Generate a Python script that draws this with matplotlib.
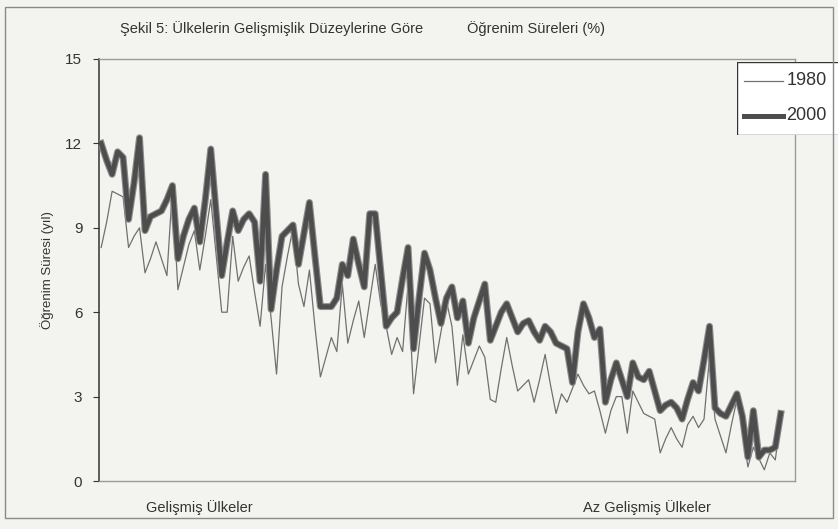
import numpy as np
import matplotlib
matplotlib.use("Agg")
import matplotlib.pyplot as plt
from matplotlib import font_manager
from matplotlib.patches import Rectangle

# font: narrow sans if available
names = {f.name for f in font_manager.fontManager.ttflist}
fam = "Liberation Sans Narrow" if "Liberation Sans Narrow" in names else "Liberation Sans"
plt.rcParams["font.family"] = [fam, "DejaVu Sans"]

# ------------------------------
# data: years of schooling per country, ordered by development level
# ------------------------------
y2000 = [12.0, 11.4, 10.9, 11.7, 11.5, 9.3, 10.6, 12.2, 8.9, 9.4,
         9.5, 9.6, 10.0, 10.5, 7.9, 8.7, 9.3, 9.7, 8.5, 10.0,
         11.8, 9.5, 7.3, 8.5, 9.6, 8.9, 9.3, 9.5, 9.2, 7.1,
         10.9, 6.1, 7.5, 8.7, 8.9, 9.1, 7.7, 8.8, 9.9, 8.0,
         6.2, 6.2, 6.2, 6.5, 7.7, 7.3, 8.6, 7.7, 6.9, 9.5,
         9.5, 7.5, 5.5, 5.8, 6.0, 7.2, 8.3, 4.7, 6.5, 8.1,
         7.5, 6.5, 5.6, 6.5, 6.9, 5.8, 6.4, 4.9, 5.8, 6.4,
         7.0, 5.0, 5.5, 6.0, 6.3, 5.8, 5.3, 5.6, 5.7, 5.3,
         5.0, 5.5, 5.3, 4.9, 4.8, 4.7, 3.5, 5.3, 6.3, 5.8,
         5.1, 5.4, 2.8, 3.6, 4.2, 3.6, 3.0, 4.2, 3.7, 3.6,
         3.9, 3.2, 2.5, 2.7, 2.8, 2.6, 2.2, 2.9, 3.5, 3.2,
         4.3, 5.5, 2.6, 2.4, 2.3, 2.7, 3.1, 2.3, 0.85, 2.5,
         0.85, 1.1, 1.1, 1.2, 2.4]

y1980 = [8.3, 9.2, 10.3, 10.2, 10.1, 8.3, 8.7, 9.0, 7.4, 7.9,
         8.5, 7.9, 7.3, 10.4, 6.8, 7.6, 8.4, 8.9, 7.5, 8.7,
         10.0, 8.0, 6.0, 6.0, 8.7, 7.1, 7.6, 8.0, 6.7, 5.5,
         7.7, 5.8, 3.8, 6.9, 8.0, 9.0, 7.0, 6.2, 7.5, 5.5,
         3.7, 4.4, 5.1, 4.6, 7.0, 4.9, 5.7, 6.4, 5.1, 6.4,
         7.7, 6.3, 5.5, 4.5, 5.1, 4.6, 7.0, 3.1, 4.8, 6.5,
         6.3, 4.2, 5.3, 6.4, 5.5, 3.4, 5.2, 3.8, 4.3, 4.8,
         4.4, 2.9, 2.8, 4.0, 5.1, 4.1, 3.2, 3.4, 3.6, 2.8,
         3.6, 4.5, 3.4, 2.4, 3.1, 2.8, 3.3, 3.8, 3.4, 3.1,
         3.2, 2.5, 1.7, 2.5, 3.0, 3.0, 1.7, 3.2, 2.8, 2.4,
         2.3, 2.2, 1.0, 1.5, 1.9, 1.5, 1.2, 2.0, 2.3, 1.9,
         2.2, 4.4, 2.2, 1.6, 1.0, 2.0, 2.9, 1.8, 0.5, 1.2,
         0.8, 0.4, 1.0, 0.75, 2.2]

yticks = [0, 3, 6, 9, 12, 15]
labels = ["1980", "2000"]

bg = "#f3f3ef"
fig = plt.figure(figsize=(8.38, 5.29), dpi=100, facecolor=bg)
ax = fig.add_axes([0.1181, 0.0907, 0.8306, 0.7978])
ax.set_facecolor(bg)

x = np.arange(len(y2000))
ax.plot(x, y1980, color="#707070", lw=0.9, label=labels[0], zorder=2)
ax.plot(x, y2000, color="#8c8c8c", lw=5.0, solid_joinstyle="round", zorder=3)
ax.plot(x, y2000, color="#4d4d4d", lw=3.4, solid_joinstyle="round", label=labels[1], zorder=4)

ax.set_xlim(-0.4, len(y2000) + 1.6)
ax.set_ylim(0, 15)
ax.set_yticks(yticks)
ax.set_xticks([])
ax.tick_params(axis="y", length=4, width=0.8, colors="#333333", labelsize=11, pad=8)

for s in ["top", "right", "bottom"]:
    ax.spines[s].set_color("#9a9a9a")
    ax.spines[s].set_linewidth(1.0)
    ax.spines[s].set_linestyle((0, (2, 1)))
ax.spines["left"].set_color("#333333")
ax.spines["left"].set_linewidth(1.1)

ax.set_ylabel("Öğrenim Süresi (yıl)", fontsize=9.5, color="#333333", labelpad=8)

fig.text(0.143, 0.947, "Şekil 5: Ülkelerin Gelişmişlik Düzeylerine Göre", fontsize=10.5,
         color="#333333", va="center")
fig.text(0.557, 0.947, "Öğrenim Süreleri (%)", fontsize=10.5, color="#333333", va="center")
fig.text(0.174, 0.041, "Gelişmiş Ülkeler", fontsize=10.5, color="#333333", va="center")
fig.text(0.696, 0.041, "Az Gelişmiş Ülkeler", fontsize=10.5, color="#333333", va="center")

# legend box (sticks out past the right edge of the plot)
leg_ax = fig.add_axes([0.880, 0.745, 0.13, 0.138])
leg_ax.set_xlim(0, 1)
leg_ax.set_ylim(0, 1)
leg_ax.axis("off")
leg_ax.add_patch(Rectangle((0, 0), 1.2, 1, facecolor="white", edgecolor="#333333", lw=1.0))
leg_ax.plot([0.06, 0.42], [0.74, 0.74], color="#707070", lw=0.9)
leg_ax.plot([0.06, 0.42], [0.26, 0.26], color="#4d4d4d", lw=3.6)
leg_ax.text(0.45, 0.74, labels[0], fontsize=13, va="center", color="#333333")
leg_ax.text(0.45, 0.26, labels[1], fontsize=13, va="center", color="#333333")

# outer frame of the scanned page
fig.add_artist(Rectangle((0.006, 0.02), 0.988, 0.966, transform=fig.transFigure,
                         fill=False, edgecolor="#8a8a8a", lw=1.0))

fig.savefig("out.png", dpi=100, facecolor=bg)
